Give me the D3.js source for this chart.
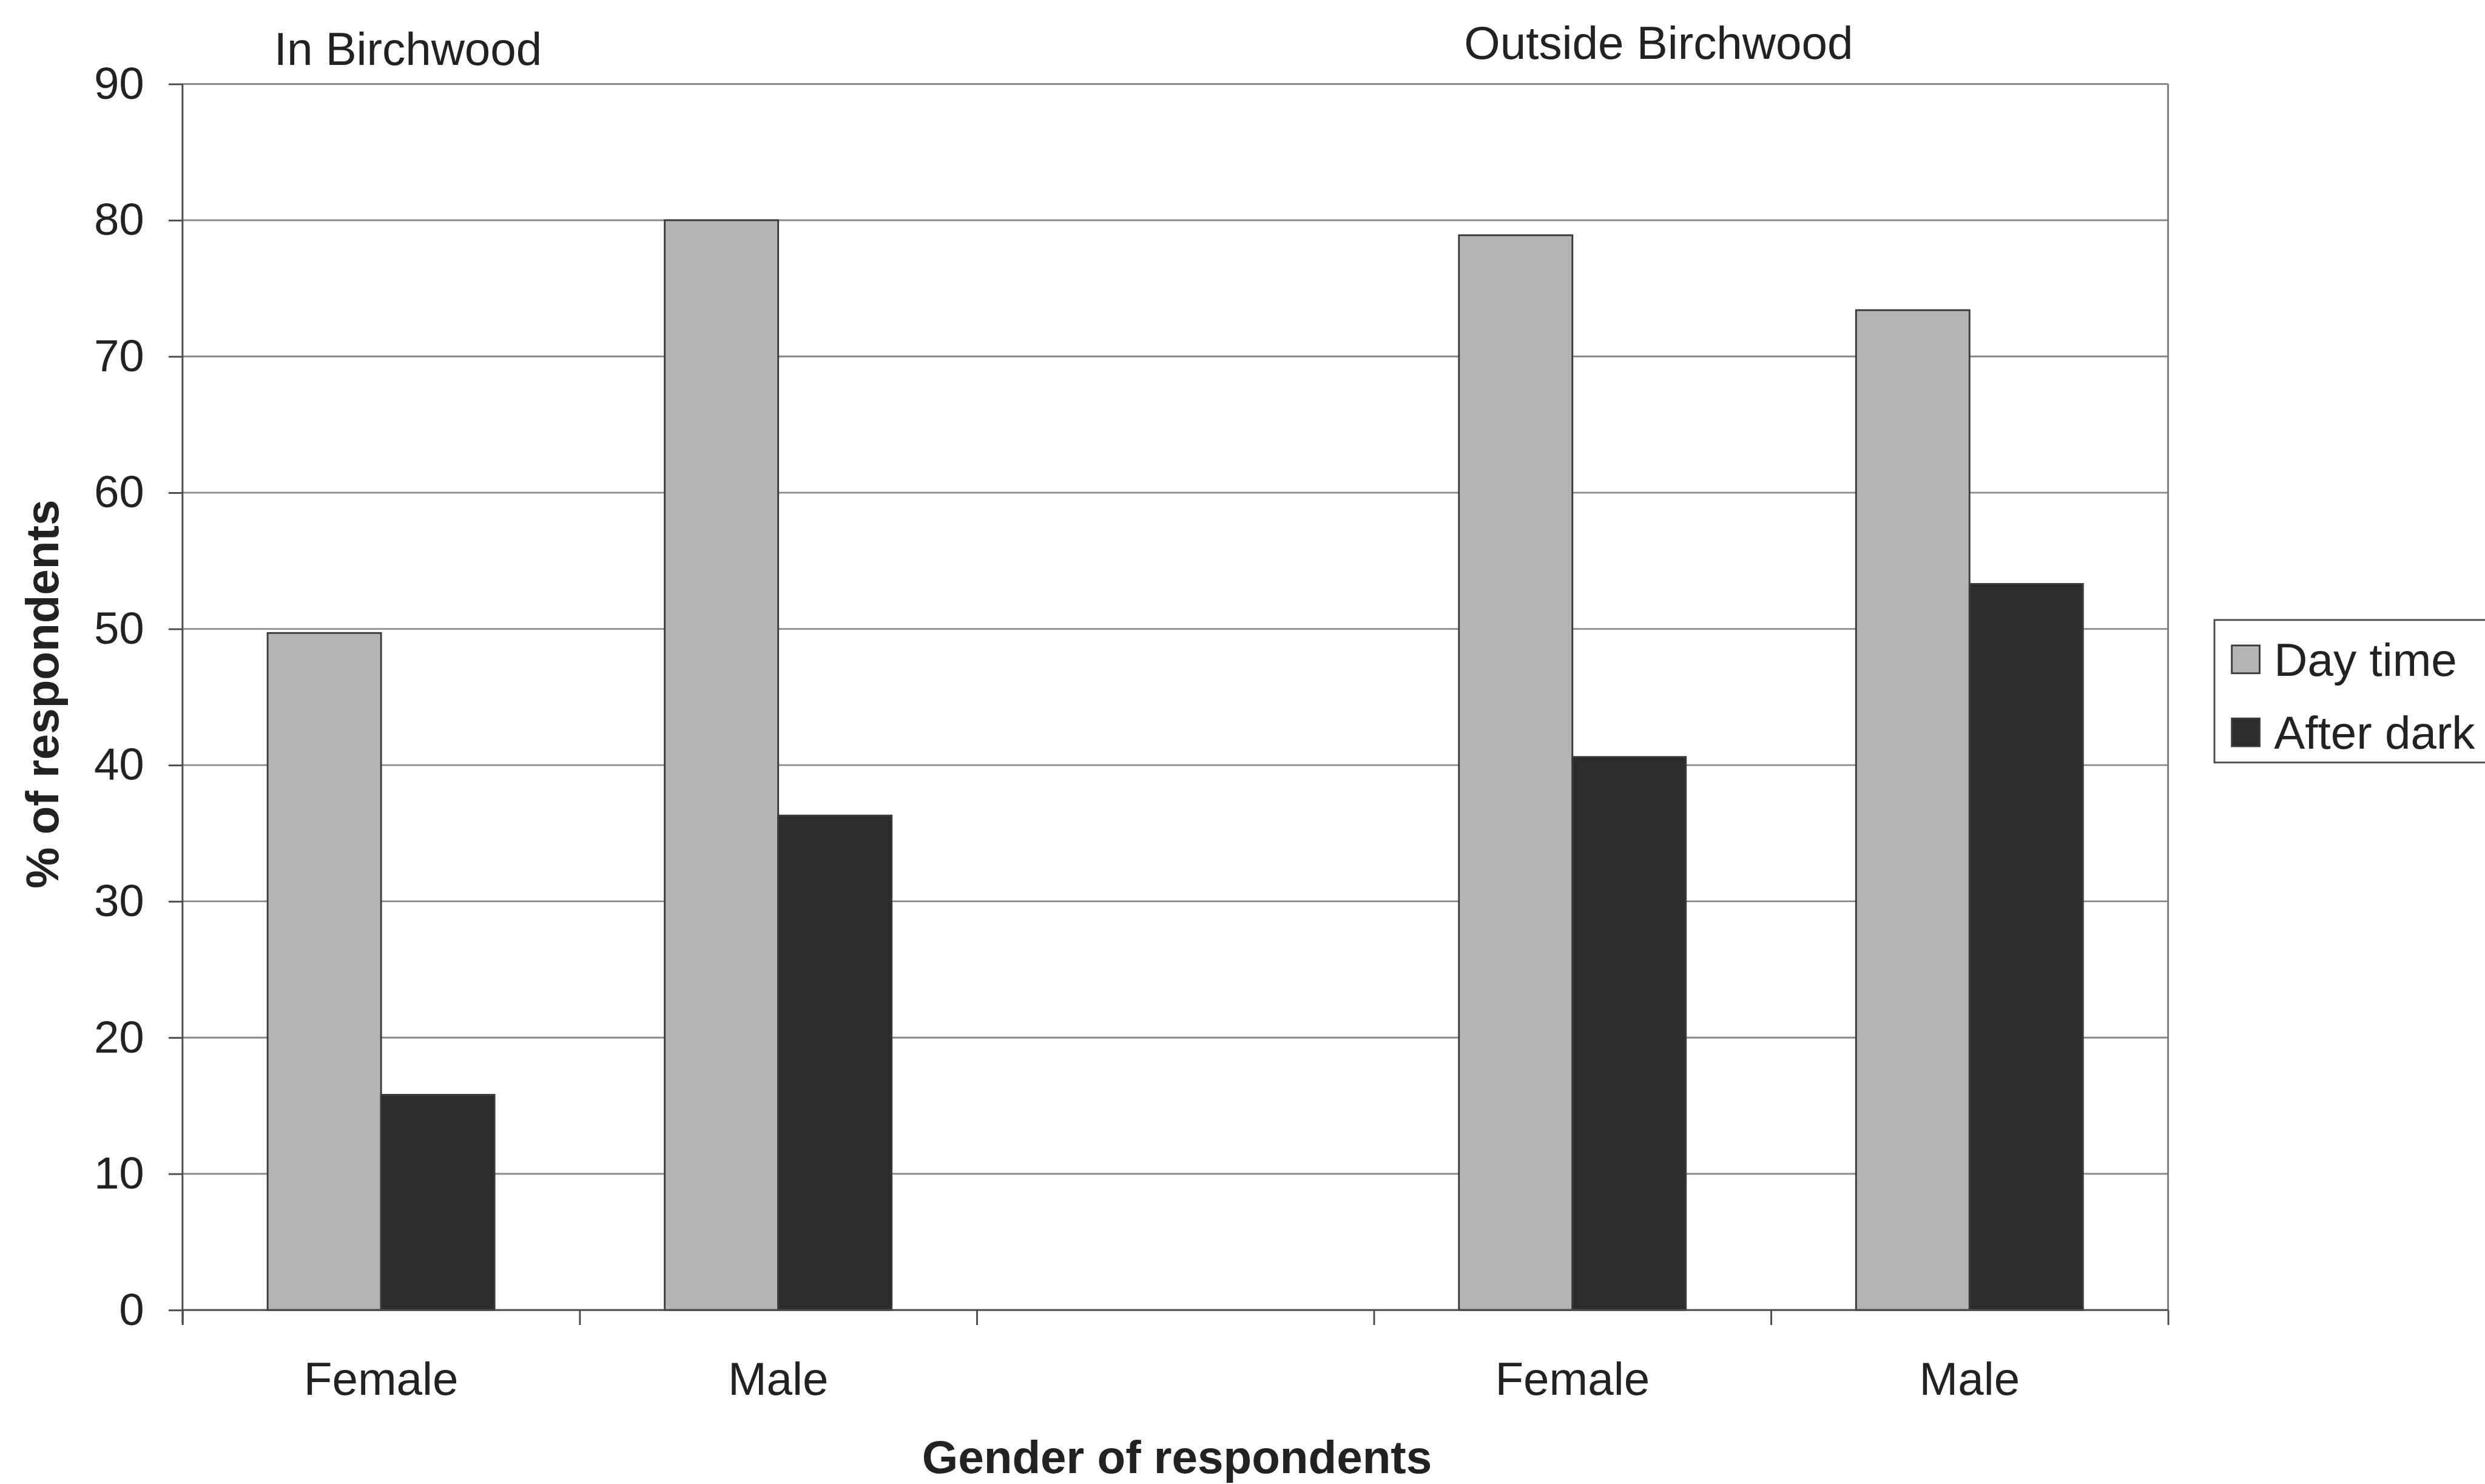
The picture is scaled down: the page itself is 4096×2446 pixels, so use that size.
<!DOCTYPE html>
<html>
<head>
<meta charset="utf-8">
<script src="https://cdn.jsdelivr.net/npm/d3@7"></script>
<style>
  html, body { margin: 0; padding: 0; background: #ffffff; overflow: hidden; }
  svg { display: block; }
  text { font-family: "Liberation Sans", Arial, Helvetica, sans-serif; fill: #222222; }
</style>
</head>
<body>
<script>
// Survey results: share of respondents who feel safe, by gender and place
const slots = ["in-female", "in-male", "spacer", "out-female", "out-male"];
const categoryLabels = ["Female", "Male", "", "Female", "Male"];
const seriesNames = ["Day time", "After dark"];
const dayTime = [49.7, 80.0, null, 78.9, 73.4];
const afterDark = [15.8, 36.3, null, 40.6, 53.3];
const yTickValues = [0, 10, 20, 30, 40, 50, 60, 70, 80, 90];
const areaLabels = ["In Birchwood", "Outside Birchwood"];
const xTitle = "Gender of respondents";
const yTitle = "% of respondents";

const W = 4096, H = 2446, S = 0.955;
const seriesColors = { "Day time": "#b4b4b4", "After dark": "#2c2c2c" };

const svg = d3.select("body").append("svg")
  .attr("width", W).attr("height", H);
svg.append("rect").attr("width", W).attr("height", H).attr("fill", "#ffffff");

// everything below is laid out on the 4289 x 2561 design grid, then scaled
const root = svg.append("g").attr("transform", `scale(${S})`);

const plot = { left: 315, right: 3742, top: 145, bottom: 2261 };

const x = d3.scaleBand().domain(slots).range([plot.left, plot.right]).paddingInner(0).paddingOuter(0);
const xSub = d3.scaleBand().domain(seriesNames).range([0, x.bandwidth()]).paddingInner(0).paddingOuter(0.75);
const y = d3.scaleLinear().domain([0, 90]).range([plot.bottom, plot.top]);

// horizontal gridlines
root.append("g").selectAll("line").data(yTickValues.filter(v => v > 0)).join("line")
  .attr("x1", plot.left).attr("x2", plot.right)
  .attr("y1", d => y(d)).attr("y2", d => y(d))
  .attr("stroke", "#8a8a8a").attr("stroke-width", 3);

// plot-area border on the right
root.append("line")
  .attr("x1", plot.right).attr("x2", plot.right)
  .attr("y1", plot.top).attr("y2", plot.bottom)
  .attr("stroke", "#7a7a7a").attr("stroke-width", 3);

// bars
const rows = slots.map((s, i) => ({ slot: s, values: [
  { series: "Day time", value: dayTime[i] },
  { series: "After dark", value: afterDark[i] }
].filter(d => d.value !== null) }));

const groups = root.append("g").selectAll("g").data(rows).join("g")
  .attr("transform", d => `translate(${x(d.slot)},0)`);
groups.selectAll("rect").data(d => d.values).join("rect")
  .attr("x", d => xSub(d.series))
  .attr("width", xSub.bandwidth())
  .attr("y", d => y(d.value))
  .attr("height", d => y(0) - y(d.value))
  .attr("fill", d => seriesColors[d.series])
  .attr("stroke", "#3a3a3a").attr("stroke-width", 3);

// y axis
const yAxis = root.append("g").attr("transform", `translate(${plot.left},0)`)
  .call(d3.axisLeft(y).tickValues(yTickValues).tickSize(24).tickPadding(42).tickFormat(d3.format("d")));
yAxis.select(".domain").attr("stroke", "#4a4a4a").attr("stroke-width", 3)
  .attr("d", `M0,${plot.top}V${plot.bottom + 24}`);
yAxis.selectAll(".tick line").attr("stroke", "#4a4a4a").attr("stroke-width", 3);
yAxis.selectAll(".tick text").attr("font-size", 78).attr("fill", "#222222")
  .attr("font-family", "'Liberation Sans', Arial, sans-serif");

// x axis: line, boundary ticks and centred category labels
const boundary = d3.scaleLinear().domain([0, slots.length]).range([plot.left, plot.right]);
const xAxisTicks = root.append("g").attr("transform", `translate(0,${plot.bottom})`)
  .call(d3.axisBottom(boundary).tickValues(d3.range(0, slots.length + 1)).tickSize(26).tickFormat(""));
xAxisTicks.select(".domain").attr("stroke", "#4a4a4a").attr("stroke-width", 3)
  .attr("d", `M${plot.left},0H${plot.right}`);
xAxisTicks.selectAll(".tick line").attr("stroke", "#4a4a4a").attr("stroke-width", 3);

const xAxisLabels = root.append("g").attr("transform", `translate(0,${plot.bottom})`)
  .call(d3.axisBottom(x).tickSize(0).tickPadding(90).tickFormat((d, i) => categoryLabels[i]));
xAxisLabels.select(".domain").remove();
xAxisLabels.selectAll(".tick text").attr("font-size", 80).attr("fill", "#222222")
  .attr("font-family", "'Liberation Sans', Arial, sans-serif");

// area headings above the plot
root.append("text").attr("x", 473).attr("y", 112).attr("font-size", 80).text(areaLabels[0]);
root.append("text").attr("x", 2527).attr("y", 102).attr("font-size", 80).text(areaLabels[1]);

// axis titles
root.append("text").attr("x", (plot.left + plot.right) / 2 + 3).attr("y", 2542)
  .attr("text-anchor", "middle").attr("font-size", 80).attr("font-weight", "bold").text(xTitle);
root.append("text").attr("transform", `translate(100,${(plot.top + plot.bottom) / 2 - 5}) rotate(-90)`)
  .attr("text-anchor", "middle").attr("font-size", 80).attr("font-weight", "bold").text(yTitle);

// legend
const legend = root.append("g").attr("transform", "translate(3822,1070)");
legend.append("rect").attr("x", 0).attr("y", 0).attr("width", 520).attr("height", 246)
  .attr("fill", "#ffffff").attr("stroke", "#4a4a4a").attr("stroke-width", 3);
const items = legend.selectAll("g.item").data(seriesNames).join("g").attr("class", "item")
  .attr("transform", (d, i) => `translate(0,${68 + i * 126})`);
items.append("rect").attr("x", 30).attr("y", -24).attr("width", 48).attr("height", 48)
  .attr("fill", d => seriesColors[d]).attr("stroke", "#3a3a3a").attr("stroke-width", 3);
items.append("text").attr("x", 103).attr("y", 28).attr("font-size", 80).text(d => d);
</script>
</body>
</html>
